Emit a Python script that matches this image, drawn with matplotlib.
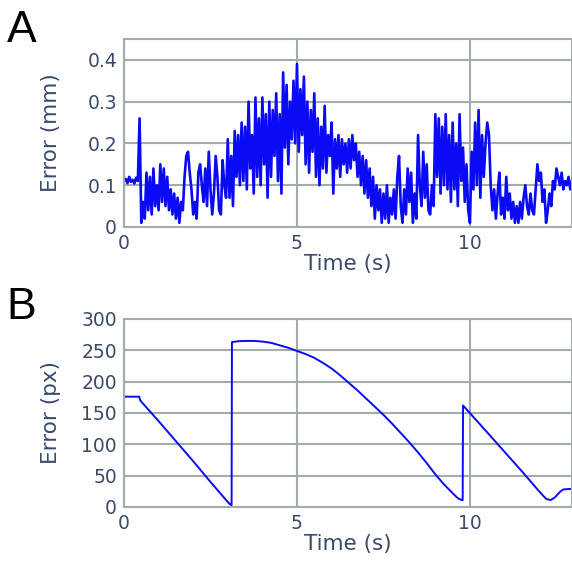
import numpy as np
import matplotlib.pyplot as plt

# -----------------------------
# Panel A: tracking error (mm), sampled every 0.05 s
# -----------------------------
dt_a = 0.05
error_mm = [
    0.11, 0.115, 0.105, 0.12, 0.108, 0.113, 0.104, 0.118, 0.11, 0.26,
    0.01, 0.06, 0.02, 0.13, 0.04, 0.12, 0.03, 0.14, 0.05, 0.10,
    0.04, 0.15, 0.06, 0.14, 0.05, 0.12, 0.04, 0.09, 0.03, 0.08,
    0.02, 0.07, 0.01, 0.06, 0.04, 0.12, 0.17, 0.18, 0.13, 0.09,
    0.03, 0.06, 0.02, 0.13, 0.15, 0.10, 0.06, 0.14, 0.05, 0.18,
    0.09, 0.03, 0.08, 0.17, 0.12, 0.04, 0.03, 0.16, 0.10, 0.07,
    0.21, 0.07, 0.17, 0.05, 0.23, 0.12, 0.22, 0.10, 0.25, 0.11,
    0.24, 0.09, 0.30, 0.14, 0.22, 0.08, 0.31, 0.12, 0.26, 0.10,
    0.31, 0.15, 0.27, 0.07, 0.30, 0.12, 0.28, 0.17, 0.32, 0.11,
    0.27, 0.08, 0.37, 0.19, 0.34, 0.15, 0.30, 0.21, 0.35, 0.20,
    0.39, 0.18, 0.33, 0.22, 0.36, 0.15, 0.30, 0.13, 0.28, 0.18,
    0.32, 0.12, 0.26, 0.10, 0.24, 0.14, 0.29, 0.13, 0.22, 0.17,
    0.25, 0.08, 0.21, 0.14, 0.22, 0.12, 0.21, 0.15, 0.20, 0.13,
    0.21, 0.14, 0.22, 0.16, 0.20, 0.12, 0.18, 0.10, 0.17, 0.08,
    0.16, 0.07, 0.14, 0.05, 0.12, 0.02, 0.10, 0.04, 0.09, 0.01,
    0.08, 0.02, 0.10, 0.01, 0.07, 0.03, 0.09, 0.02, 0.12, 0.17,
    0.05, 0.01, 0.09, 0.03, 0.14, 0.06, 0.13, 0.01, 0.08, 0.02,
    0.22, 0.10, 0.05, 0.18, 0.07, 0.15, 0.04, 0.03, 0.10, 0.05,
    0.27, 0.12, 0.26, 0.08, 0.24, 0.10, 0.27, 0.09, 0.22, 0.06,
    0.25, 0.09, 0.20, 0.05, 0.27, 0.11, 0.19, 0.06, 0.15, 0.04,
    0.01, 0.18, 0.09, 0.25, 0.10, 0.28, 0.07, 0.22, 0.12, 0.20,
    0.25, 0.22, 0.10, 0.04, 0.09, 0.02, 0.08, 0.13, 0.03, 0.07,
    0.02, 0.12, 0.04, 0.08, 0.02, 0.06, 0.01, 0.05, 0.01, 0.06,
    0.02, 0.07, 0.10, 0.05, 0.03, 0.08, 0.04, 0.03, 0.09, 0.15,
    0.11, 0.13, 0.06, 0.09, 0.01, 0.04, 0.08, 0.05, 0.11, 0.09,
    0.14, 0.12, 0.10, 0.13, 0.09, 0.11, 0.10, 0.12, 0.09, 0.11,
]
time_a = np.arange(len(error_mm)) * dt_a

# -----------------------------
# Panel B: tracking error (px), knots
# -----------------------------
time_b = [0.0, 0.44, 0.47, 0.5, 1.0, 1.5, 2.0, 2.5, 3.0, 3.07, 3.11,
          3.12, 3.3, 3.5, 3.75, 4.0, 4.25, 4.5, 4.75, 5.0, 5.25,
          5.5, 5.75, 6.0, 6.25, 6.5, 6.75, 7.0, 7.25, 7.5, 7.75,
          8.0, 8.25, 8.5, 8.75, 9.0, 9.25, 9.5, 9.65, 9.76, 9.79,
          9.8, 10.5, 11.0, 11.5, 12.0, 12.2, 12.33, 12.45, 12.6, 12.7, 12.95]
error_px = [176, 176, 170, 168, 137, 105, 73, 40, 8, 4, 3,
            263, 264.5, 265, 265, 264, 262, 258, 254, 249, 244,
            238, 230, 221, 210, 198, 186, 173, 160, 147, 133,
            118, 103, 87, 70, 52, 36, 22, 14, 11, 11,
            162, 119, 88, 57, 25, 13, 11, 15, 24, 28, 29]

x_ticks = [0, 5, 10]
y_ticks_a = [0, 0.1, 0.2, 0.3, 0.4]
y_ticks_b = [0, 50, 100, 150, 200, 250, 300]

grid_col = "#a3ada8"
text_col = "#3b4a6b"
line_col = "#0a0af5"

fig = plt.figure(figsize=(5.72, 5.61), dpi=100)
ax_a = fig.add_axes([0.2168, 0.5954, 0.7832, 0.3351])
ax_b = fig.add_axes([0.2168, 0.0963, 0.7832, 0.3351])


def style_axes(ax, ylabel, yticks, ylim):
    ax.set_xlim(0, 12.95)
    ax.set_ylim(*ylim)
    ax.set_xticks(x_ticks)
    ax.set_yticks(yticks)
    ax.grid(True, color=grid_col, linewidth=1.5)
    ax.set_axisbelow(True)
    for s in ax.spines.values():
        s.set_color(grid_col)
        s.set_linewidth(1.5)
    ax.tick_params(length=0, pad=5, labelsize=13.5, colors=text_col)
    ax.set_xlabel("Time (s)", fontsize=15.5, color=text_col, labelpad=1)
    ax.set_ylabel(ylabel, fontsize=15.5, color=text_col)
    # both y titles sit at the same x in the reference
    ax.yaxis.set_label_coords(-0.14, 0.5)


ax_a.plot(time_a, error_mm, color=line_col, linewidth=1.9)
style_axes(ax_a, "Error (mm)", y_ticks_a, (0, 0.45))
ax_a.set_yticklabels(["0", "0.1", "0.2", "0.3", "0.4"])

ax_b.plot(time_b, error_px, color=line_col, linewidth=1.4)
style_axes(ax_b, "Error (px)", y_ticks_b, (0, 300))

fig.text(0.012, 0.982, "A", fontsize=32, family="Liberation Sans", va="top")
fig.text(0.012, 0.488, "B", fontsize=32, family="Liberation Sans", va="top")

fig.savefig("out.png", dpi=100)
